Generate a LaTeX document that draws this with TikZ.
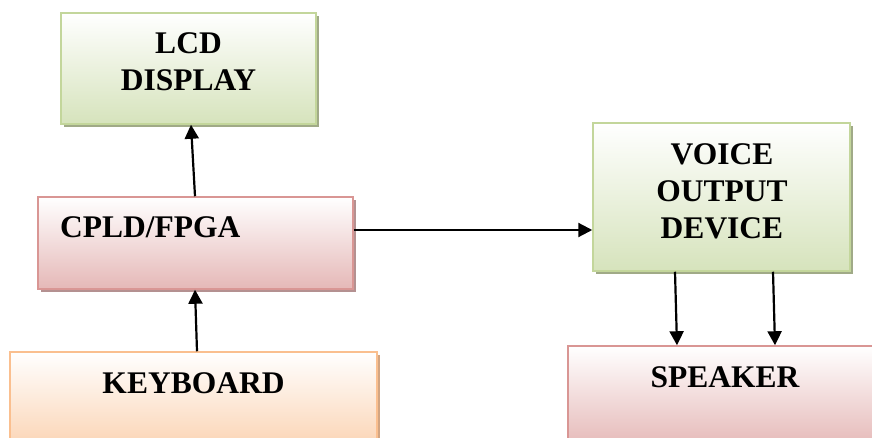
\documentclass[tikz,border=0pt]{standalone}
\usepackage{fontspec}
\setmainfont{Liberation Serif}
\usetikzlibrary{arrows.meta,shadows}

\definecolor{greenline}{RGB}{195,214,155}
\definecolor{greenfill}{RGB}{214,227,188}
\definecolor{greenshade}{RGB}{160,170,135}
\definecolor{pinkline}{RGB}{217,150,148}
\definecolor{pinkfill}{RGB}{229,184,183}
\definecolor{pinkshade}{RGB}{180,145,145}
\definecolor{peachline}{RGB}{250,191,143}
\definecolor{peachfill}{RGB}{251,212,180}
\definecolor{peachshade}{RGB}{210,165,130}

\begin{document}
\begin{tikzpicture}[x=1pt,y=-1pt]

\tikzstyle{block} = [rectangle, inner sep=0pt, line width=1.5pt, top color=white]
\tikzstyle{greenbox} = [block, draw=greenline, bottom color=greenfill, drop shadow={shadow xshift=3pt, shadow yshift=-3pt, fill=greenshade, opacity=1}]
\tikzstyle{pinkbox} = [block, draw=pinkline, bottom color=pinkfill, drop shadow={shadow xshift=3pt, shadow yshift=-3pt, fill=pinkshade, opacity=1}]
\tikzstyle{peachbox} = [block, draw=peachline, bottom color=peachfill, drop shadow={shadow xshift=3pt, shadow yshift=-3pt, fill=peachshade, opacity=1}]
\tikzstyle{boxtext} = [font=\fontsize{31.5}{37}\selectfont\bfseries, align=center, inner sep=0pt]
\tikzstyle{link} = [-{Triangle[width=14pt,length=14pt]}, line width=2.2pt]

\useasboundingbox (0,0) rectangle (872,438);
\clip (0,0) rectangle (872,438);

\node[greenbox, minimum width=255, minimum height=111] (lcd) at (188.5,68.5) {};
\node[pinkbox, minimum width=315, minimum height=92] (cpld) at (195.5,243) {};
\node[peachbox, minimum width=367, minimum height=96] (keyboard) at (193.5,400) {};
\node[greenbox, minimum width=257, minimum height=148] (voice) at (721.5,197) {};
\node[pinkbox, minimum width=314, minimum height=102] (speaker) at (725,397) {};

\node[boxtext] (lcdtext) at (188.5,61.5) {LCD\\DISPLAY};
\node[boxtext, anchor=base west] (cpldtext) at (60,238) {CPLD/FPGA};
\node[boxtext, anchor=base] (keyboardtext) at (193.5,393) {KEYBOARD};
\node[boxtext] (voicetext) at (722,191) {VOICE\\OUTPUT\\DEVICE};
\node[boxtext, anchor=base] (speakertext) at (725,387) {SPEAKER};

\draw[link] ([xshift=-0.5pt]cpld.north) -- ([xshift=2.5pt]lcd.south);
\draw[link] ([xshift=3.5pt]keyboard.north) -- ([xshift=-0.5pt]cpld.south);
\draw[link] ([yshift=13pt]cpld.east) -- ([yshift=-33pt]voice.west);
\draw[link] ([xshift=-46.5pt]voice.south) -- ([xshift=-48pt]speaker.north);
\draw[link] ([xshift=51.5pt]voice.south) -- ([xshift=50pt]speaker.north);

\end{tikzpicture}
\end{document}
